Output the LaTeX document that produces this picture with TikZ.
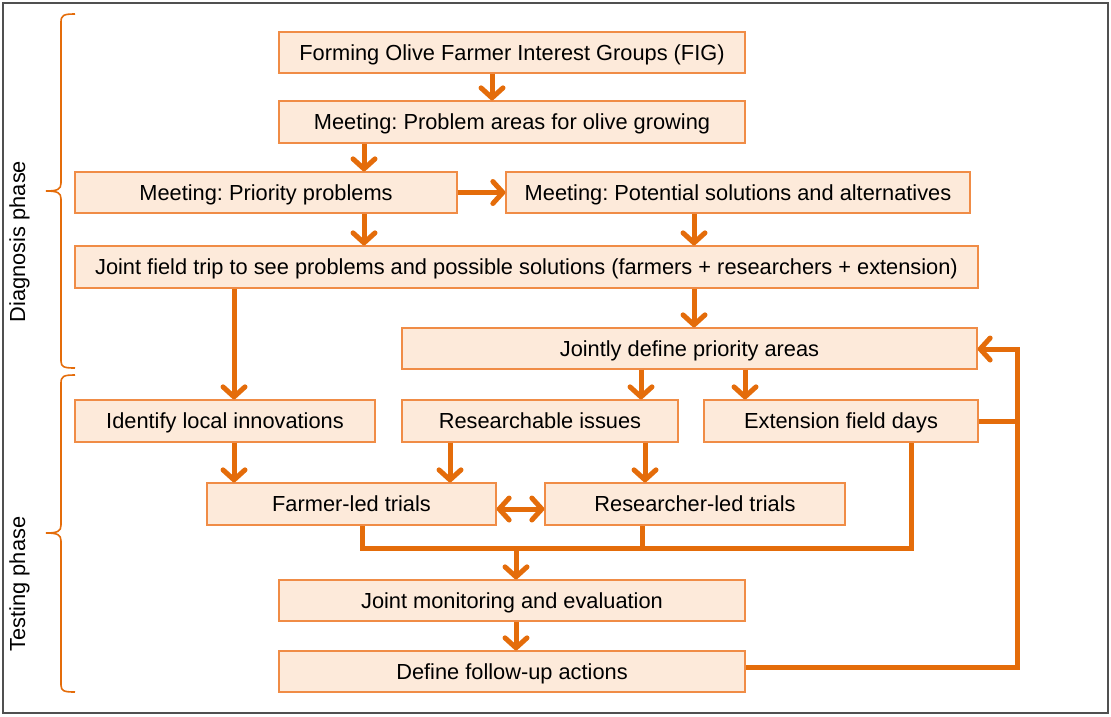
\documentclass[tikz,border=0pt]{standalone}
\usepackage{fontspec}
\setmainfont{Liberation Sans}
\usetikzlibrary{arrows.meta}
\definecolor{lineor}{RGB}{228,108,10}
\definecolor{boxfill}{RGB}{253,234,218}
\definecolor{boxdraw}{RGB}{240,140,70}
\definecolor{framegray}{RGB}{80,80,80}
\frenchspacing
\begin{document}
\begin{tikzpicture}[x=1pt,y=-1pt,
  box/.style={draw=boxdraw, fill=boxfill, line width=1.3pt, inner sep=0pt,
    text height=15.6pt, text depth=0pt,
    font=\fontsize{21.8}{26}\selectfont, text=black},
  conn/.style={draw=lineor, line width=5pt},
  arr/.style={conn, -{Straight Barb[length=10pt,width=22pt,line cap=round,line join=round]}},
  darr/.style={conn, {Straight Barb[length=10pt,width=22pt,line cap=round,line join=round]}-{Straight Barb[length=10pt,width=22pt,line cap=round,line join=round]}},
  brace/.style={draw=lineor, line width=1.6pt},
  phase/.style={font=\fontsize{21.8}{26}\selectfont, rotate=90, inner sep=0pt}
]
\useasboundingbox (0,0) rectangle (1111,716);
\draw[framegray, line width=1.5pt] (3,3) rectangle (1108,713);

% boxes
\node[box, minimum width=466pt, minimum height=41pt] (fig) at (512,52.5) {Forming Olive Farmer Interest Groups (FIG)};
\node[box, minimum width=466pt, minimum height=42pt] (prob) at (512,122) {Meeting: Problem areas for olive growing};
\node[box, minimum width=382pt, minimum height=41pt] (prio) at (266,192.5) {Meeting: Priority problems};
\node[box, minimum width=464pt, minimum height=41pt] (pot) at (738,192.5) {Meeting: Potential solutions and alternatives};
\node[box, minimum width=903pt, minimum height=42pt] (trip) at (526.5,267) {Joint field trip to see problems and possible solutions (farmers + researchers + extension)};
\node[box, minimum width=575pt, minimum height=41pt] (jda) at (689.5,348.5) {Jointly define priority areas};
\node[box, minimum width=300pt, minimum height=42pt] (loc) at (225,421) {Identify local innovations};
\node[box, minimum width=276pt, minimum height=42pt] (res) at (540,421) {Researchable issues};
\node[box, minimum width=274pt, minimum height=42pt] (ext) at (841,421) {Extension field days};
\node[box, minimum width=289pt, minimum height=42pt] (flt) at (351.5,504) {Farmer-led trials};
\node[box, minimum width=300pt, minimum height=42pt] (rlt) at (695,504) {Researcher-led trials};
\node[box, minimum width=466pt, minimum height=41pt] (mon) at (512,600.5) {Joint monitoring and evaluation};
\node[box, minimum width=466pt, minimum height=41pt] (fu) at (512,671.5) {Define follow-up actions};

% arrows
\draw[arr] (fig.south -| 492,0) -- (prob.north -| 492,0);
\draw[arr] (prob.south -| 364,0) -- (prio.north -| 364,0);
\draw[arr] (prio.east) -- (pot.west);
\draw[arr] (prio.south -| 364,0) -- (trip.north -| 364,0);
\draw[arr] (pot.south -| 694,0) -- (trip.north -| 694,0);
\draw[arr] (trip.south -| 694,0) -- (jda.north -| 694,0);
\draw[arr] (trip.south -| 234,0) -- (loc.north -| 234,0);
\draw[arr] (jda.south -| 641,0) -- (res.north -| 641,0);
\draw[arr] (jda.south -| 745,0) -- (ext.north -| 745,0);
\draw[arr] (loc.south -| 234,0) -- (flt.north -| 234,0);
\draw[arr] (res.south -| 450,0) -- (flt.north -| 450,0);
\draw[arr] (res.south -| 645,0) -- (rlt.north -| 645,0);
\draw[darr] (flt.east |- 0,509) -- (rlt.west |- 0,509);

% merge
\coordinate (jl) at (362,548);
\coordinate (jm) at (516,548);
\coordinate (jr) at (911,548);
\draw[conn] (flt.south -| jl) -- (jl) -- (jr) -- (ext.south -| jr);
\draw[conn] (rlt.south -| 642,0) -- (642,548);
\draw[arr] (jm) -- (mon.north -| jm);
\draw[arr] (mon.south -| 516,0) -- (fu.north -| 516,0);

% feedback
\coordinate (fb1) at (1017,667);
\coordinate (fb2) at (1017,349);
\draw[arr] (fu.east |- fb1) -- (fb1) -- (fb2) -- (jda.east |- fb2);
\draw[conn] (ext.east) -- (ext.east -| fb1);

% braces
\draw[brace] (75,14) .. controls (64,14) and (61,15) .. (61,22) -- (61,183)
  .. controls (61,189) and (58,191) .. (46,191)
  .. controls (58,191) and (61,193) .. (61,199) -- (61,361)
  .. controls (61,367) and (64,368) .. (75,368);
\draw[brace] (75,375) .. controls (64,375) and (61,376) .. (61,383) -- (61,525)
  .. controls (61,531) and (58,533) .. (46,533)
  .. controls (58,533) and (61,535) .. (61,541) -- (61,685)
  .. controls (61,691) and (64,692) .. (75,692);

\node[phase, anchor=base] (dp) at (25,241.5) {Diagnosis phase};
\node[phase, anchor=base] (tp) at (25,584) {Testing phase};
\end{tikzpicture}
\end{document}
